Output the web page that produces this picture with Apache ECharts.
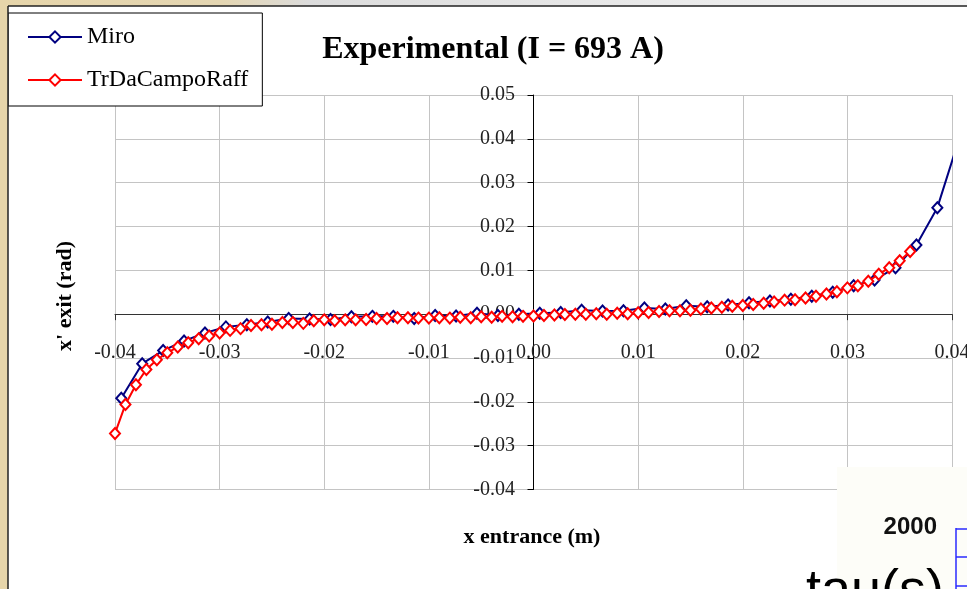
<!DOCTYPE html>
<html>
<head>
<meta charset="utf-8">
<script src="https://cdn.jsdelivr.net/npm/echarts@6/dist/echarts.min.js"></script>
<style>
html,body{margin:0;padding:0;background:#fff;}
#chart{width:967px;height:589px;}
</style>
</head>
<body>
<div id="chart"></div>
<script>
// ---- data ----
var titleText = "Experimental (I = 693 A)";
var xAxisTitle = "x entrance (m)";
var yAxisTitle = "x' exit (rad)";
var seriesNames = ["Miro", "TrDaCampoRaff"];

var mirX = [-0.0394,-0.0374,-0.0354,-0.0334,-0.0314,-0.0294,-0.0274,-0.0254,-0.0234,-0.0214,
            -0.0194,-0.0174,-0.0154,-0.0134,-0.0114,-0.0094,-0.0074,-0.0054,-0.0034,-0.0014,
             0.0006, 0.0026, 0.0046, 0.0066, 0.0086, 0.0106, 0.0126, 0.0146, 0.0166, 0.0186,
             0.0206, 0.0226, 0.0246, 0.0266, 0.0286, 0.0306, 0.0326, 0.0346, 0.0366, 0.0386, 0.0406];
var mirY = [-0.0192,-0.0113,-0.0083,-0.0061,-0.0043,-0.0029,-0.0024,-0.0018,-0.0010,-0.0011,
            -0.0012,-0.0006,-0.0005,-0.0005,-0.0010,-0.0003,-0.0004, 0.0002,-0.0003, 0.0000,
             0.0002, 0.0004, 0.0009, 0.0007, 0.0008, 0.0014, 0.0012, 0.0019, 0.0017, 0.0021,
             0.0026, 0.0030, 0.0034, 0.0041, 0.0050, 0.0065, 0.0078, 0.0106, 0.0158, 0.0243, 0.0394];

var trdX = [-0.040,-0.039,-0.038,-0.037,-0.036,-0.035,-0.034,-0.033,-0.032,-0.031,
            -0.030,-0.029,-0.028,-0.027,-0.026,-0.025,-0.024,-0.023,-0.022,-0.021,
            -0.020,-0.019,-0.018,-0.017,-0.016,-0.015,-0.014,-0.013,-0.012,-0.011,
            -0.010,-0.009,-0.008,-0.007,-0.006,-0.005,-0.004,-0.003,-0.002,-0.001,
             0.000, 0.001, 0.002, 0.003, 0.004, 0.005, 0.006, 0.007, 0.008, 0.009,
             0.010, 0.011, 0.012, 0.013, 0.014, 0.015, 0.016, 0.017, 0.018, 0.019,
             0.020, 0.021, 0.022, 0.023, 0.024, 0.025, 0.026, 0.027, 0.028, 0.029,
             0.030, 0.031, 0.032, 0.033, 0.034, 0.035, 0.036];
var trdY = [-0.0272,-0.0206,-0.0161,-0.0126,-0.0104,-0.0088,-0.0075,-0.0065,-0.0056,-0.0050,
            -0.0043,-0.0037,-0.0033,-0.0026,-0.0024,-0.0023,-0.0019,-0.0019,-0.0021,-0.0015,
            -0.0013,-0.0015,-0.0013,-0.0013,-0.0012,-0.0010,-0.0010,-0.0008,-0.0008,-0.0009,
            -0.0009,-0.0008,-0.0009,-0.0007,-0.0008,-0.0006,-0.0007,-0.0005,-0.0006,-0.0005,
            -0.0004,-0.0003,-0.0002,-0.0001, 0.0000, 0.0000, 0.0001, 0.0000, 0.0002, 0.0001,
             0.0003, 0.0004, 0.0006, 0.0008, 0.0008, 0.0009, 0.0012, 0.0014, 0.0016, 0.0018,
             0.0020, 0.0022, 0.0025, 0.0028, 0.0032, 0.0033, 0.0037, 0.0041, 0.0046, 0.0051,
             0.0060, 0.0065, 0.0075, 0.0091, 0.0106, 0.0122, 0.0143];

var xMin = -0.04, xMax = 0.04, xStep = 0.01;
var yMin = -0.04, yMax = 0.05, yStep = 0.01;

// overlay fragment from another chart (bottom right)
var overlayTick = "2000";
var overlayLabel = "tau(s)";

// ---- build ----
function zip(xs, ys) {
  var out = [];
  for (var i = 0; i < xs.length; i++) out.push([xs[i], ys[i]]);
  return out;
}
var mirData = zip(mirX, mirY);
// last Miro point: line runs out of the chart frame, marker not visible
mirData[mirData.length - 1] = { value: mirData[mirData.length - 1], symbol: 'none' };
var trdData = zip(trdX, trdY);

function fmt(v) {
  if (Math.abs(v) < 1e-9) return "0.00";
  return v.toFixed(2);
}

var serif = "'Liberation Serif', 'DejaVu Serif', serif";
var sans = "'Liberation Sans', Arial, sans-serif";

var chart = echarts.init(document.getElementById('chart'), null, { renderer: 'canvas' });
chart.setOption({
  animation: false,
  backgroundColor: '#ffffff',
  grid: { left: 115, right: 15, top: 95, bottom: 99.5, containLabel: false, outerBoundsMode: 'none' },
  legend: {
    orient: 'vertical',
    left: 8, top: 13,
    padding: [12, 14, 14, 19],
    itemGap: 19,
    itemWidth: 54,
    itemHeight: 14,
    backgroundColor: '#ffffff',
    borderColor: '#000000',
    borderWidth: 1,
    borderRadius: 0,
    lineStyle: { width: 2 },
    textStyle: { fontFamily: serif, fontSize: 24, lineHeight: 24, color: '#000' },
    data: seriesNames
  },
  xAxis: {
    type: 'value', min: xMin, max: xMax, interval: xStep,
    axisLine: { onZero: true, lineStyle: { color: '#333', width: 1 } },
    axisTick: { show: true, inside: false, length: 6, lineStyle: { color: '#333' } },
    // labels sit just under the zero-crossing axis line, as in the reference
    axisLabel: { margin: -147, fontFamily: serif, fontSize: 20, color: '#222', formatter: fmt },
    splitLine: { show: true, lineStyle: { color: '#c4c4c4', width: 1 } }
  },
  yAxis: {
    type: 'value', min: yMin, max: yMax, interval: yStep,
    axisLine: { onZero: true, lineStyle: { color: '#000', width: 1 } },
    axisTick: { show: true, inside: false, length: 6, lineStyle: { color: '#000' } },
    // labels sit just left of the zero-crossing axis line
    axisLabel: { margin: -400, fontFamily: serif, fontSize: 20, color: '#222', formatter: fmt },
    splitLine: { show: true, lineStyle: { color: '#c4c4c4', width: 1 } }
  },
  series: [
    {
      name: seriesNames[0], type: 'line', data: mirData, clip: false,
      showSymbol: true, showAllSymbol: true,
      symbol: 'diamond', symbolSize: [10, 11],
      lineStyle: { color: '#000080', width: 2 },
      itemStyle: { color: '#ffffff', borderColor: '#000080', borderWidth: 2 },
      z: 3
    },
    {
      name: seriesNames[1], type: 'line', data: trdData, clip: false,
      showSymbol: true, showAllSymbol: true,
      symbol: 'diamond', symbolSize: [10, 11],
      lineStyle: { color: '#ff0000', width: 2 },
      itemStyle: { color: '#ffffff', borderColor: '#ff0000', borderWidth: 2 },
      z: 4
    }
  ],
  graphic: [
    { type: 'rect', shape: { x: 0, y: 0, width: 8, height: 589 }, style: { fill: '#e6d5aa' }, z: 50, silent: true },
    { type: 'rect', shape: { x: 0, y: 0, width: 967, height: 6 },
      style: { fill: new echarts.graphic.LinearGradient(0, 0, 1, 0, [
        { offset: 0, color: '#e6d5aa' }, { offset: 0.23, color: '#e4d6b2' },
        { offset: 0.32, color: '#dcdcdc' }, { offset: 1, color: '#f6f6f6' }]) }, z: 50, silent: true },
    { type: 'line', shape: { x1: 8, y1: 6, x2: 8, y2: 589 }, style: { stroke: '#222', lineWidth: 1.5 }, z: 51, silent: true },
    { type: 'line', shape: { x1: 8, y1: 6, x2: 967, y2: 6 }, style: { stroke: '#222', lineWidth: 1.5 }, z: 51, silent: true },
    { type: 'text', x: 493, y: 50, z: 60,
      style: { text: titleText, font: "bold 32px " + serif, fill: '#000', textAlign: 'center', textVerticalAlign: 'middle' } },
    { type: 'text', x: 532, y: 537, z: 60,
      style: { text: xAxisTitle, font: "bold 22px " + serif, fill: '#000', textAlign: 'center', textVerticalAlign: 'middle' } },
    { type: 'text', x: 65, y: 296, rotation: Math.PI / 2, z: 60,
      style: { text: yAxisTitle, font: "bold 22px " + serif, fill: '#000', textAlign: 'center', textVerticalAlign: 'middle' } },
    { type: 'rect', shape: { x: 837, y: 467, width: 130, height: 122 }, style: { fill: '#fdfdf8' }, z: 70, silent: true },
    { type: 'text', x: 937, y: 527, z: 71,
      style: { text: overlayTick, font: "bold 24px " + sans, fill: '#111', textAlign: 'right', textVerticalAlign: 'middle' } },
    { type: 'text', x: 806, y: 592, z: 71,
      style: { text: overlayLabel, font: "54px " + sans, fill: '#000', textAlign: 'left', textVerticalAlign: 'middle' } },
    { type: 'line', shape: { x1: 956, y1: 528, x2: 956, y2: 589 }, style: { stroke: '#2a2aff', lineWidth: 1.5 }, z: 71, silent: true },
    { type: 'line', shape: { x1: 956, y1: 529, x2: 967, y2: 529 }, style: { stroke: '#2a2aff', lineWidth: 1.5 }, z: 71, silent: true },
    { type: 'line', shape: { x1: 956, y1: 557, x2: 967, y2: 557 }, style: { stroke: '#2a2aff', lineWidth: 1.5 }, z: 71, silent: true },
    { type: 'line', shape: { x1: 956, y1: 586, x2: 967, y2: 586 }, style: { stroke: '#2a2aff', lineWidth: 1.5 }, z: 71, silent: true }
  ]
});
</script>
</body>
</html>
